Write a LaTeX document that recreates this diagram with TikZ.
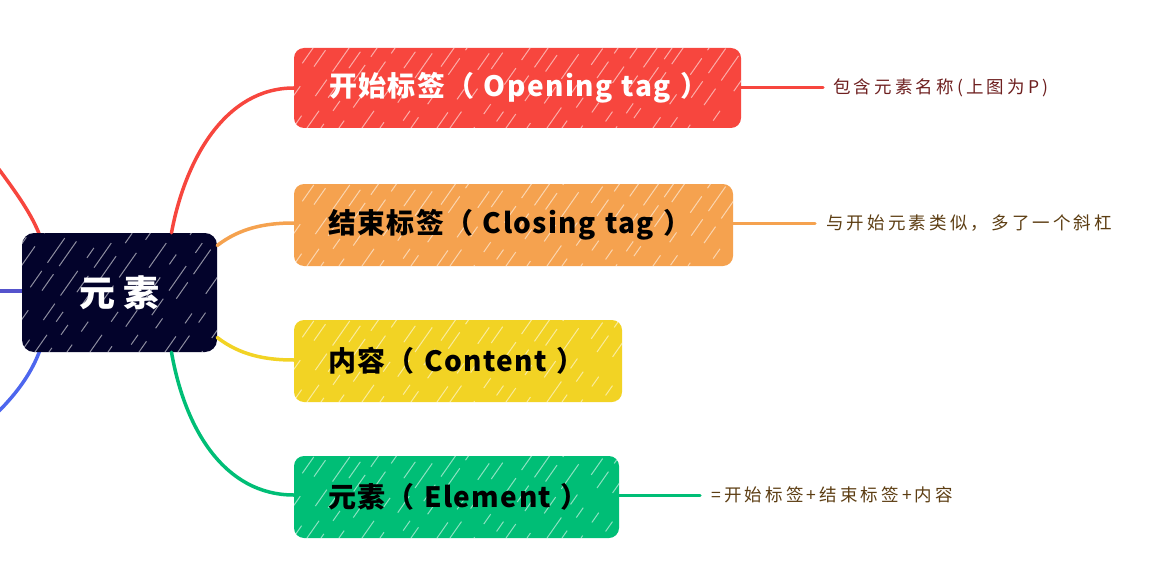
\documentclass[tikz,border=0pt]{standalone}
\usepackage{fontspec}
\newfontfamily\cjkwide{Noto Sans CJK SC}[LetterSpace=5]
\newfontfamily\cjkroot{Noto Sans CJK SC}[LetterSpace=22]
\newfontfamily\cjknote{Noto Sans CJK SC}[LetterSpace=18]
\usetikzlibrary{calc}
\definecolor{cred}{HTML}{F7463E}
\definecolor{corange}{HTML}{F5A24F}
\definecolor{cyellow}{HTML}{F2D324}
\definecolor{cgreen}{HTML}{00BE76}
\definecolor{cnavy}{HTML}{03032B}
\definecolor{cblue}{HTML}{4D66EE}
\definecolor{cpurple}{HTML}{5553CC}
\definecolor{cdarkred}{HTML}{6E1F1F}
\definecolor{cbrown}{HTML}{5C3D12}
\tikzset{
  hatch/.style={path picture={
    \pgfmathsetseed{7}
    \foreach \k in {0,...,30}{
      \pgfmathsetmacro{\ph}{random(0,60)}
      \pgfmathsetmacro{\off}{\k*18+random(-5,5)}
      \draw[white,opacity=0.55,line width=1pt,dash pattern=on 30pt off 16pt on 12pt off 24pt on 20pt off 10pt,dash phase=\ph pt]
        ([xshift=\off pt-130pt]path picture bounding box.south west) -- ++(55:170pt);
    }}},
  topicbox/.style={rounded corners=10pt, hatch, inner ysep=0pt,
    font=\cjkwide\bfseries\fontsize{28}{31}\selectfont, align=left, anchor=center},
  rootbox/.style={rounded corners=12pt, fill=cnavy, hatch, text=white,
    font=\cjkroot\bfseries\fontsize{36}{40}\selectfont, minimum width=195pt, minimum height=119pt, anchor=center},
  branch/.style={line width=3.5pt, line cap=round},
  leaf/.style={line width=3pt, line cap=round},
  note/.style={font=\cjknote\fontsize{17.5}{19}\selectfont, anchor=west, inner sep=0pt}
}
\begin{document}
\begin{tikzpicture}[x=1pt,y=-1pt]
\useasboundingbox (0,0) rectangle (1156,575);
% off-canvas branches
\coordinate (lr) at (-2,168);
\coordinate (lb) at (-2,291);
\coordinate (lbb) at (-2,412);
\draw[branch,cred] (lr) .. controls (18,195) and (32,215) .. (40,236);
\draw[branch,cpurple] (lb) -- (24,291);
\draw[branch,cblue] (lbb) .. controls (18,392) and (32,372) .. (40,350);

% root
\node[rootbox] (root) at (119.5,292.5) {元素};

% topic boxes
\node[topicbox, fill=cred, text=white, minimum width=447pt, minimum height=80pt, text width=447pt-70pt, inner xsep=35pt] (open) at (517.5,88) {\mbox{开始标签（ Opening tag ）}};
\node[topicbox, fill=corange, text=black, minimum width=439pt, minimum height=82pt, text width=439pt-68pt, inner xsep=34pt] (close) at (513.5,225) {\mbox{结束标签（ Closing tag ）}};
\node[topicbox, fill=cyellow, text=black, minimum width=328pt, minimum height=82pt, text width=328pt-68pt, inner xsep=34pt] (content) at (458,361) {\mbox{内容（ Content ）}};
\node[topicbox, fill=cgreen, text=black, minimum width=325pt, minimum height=82pt, text width=325pt-68pt, inner xsep=34pt] (elem) at (456.5,497) {\mbox{元素（ Element ）}};

% connectors root -> topics
\draw[branch,cred] ([xshift=52pt]root.north) .. controls (185,160) and (225,88) .. (open.west);
\draw[branch,corange] ([yshift=47pt]root.east) .. controls (240,228) and (265,223) .. ([yshift=2pt]close.west);
\draw[branch,cyellow] ([yshift=-45pt]root.east) .. controls (240,355) and (265,360) .. ([yshift=1pt]content.west);
\draw[branch,cgreen] ([xshift=52pt]root.south) .. controls (185,430) and (225,495) .. ([yshift=2pt]elem.west);

% notes
\coordinate (n1) at (823,88);
\coordinate (n2) at (815,223);
\coordinate (n3) at (700,495);
\draw[leaf,cred] (open.east) -- (n1);
\draw[leaf,corange] ([yshift=2pt]close.east) -- (n2);
\draw[leaf,cgreen] ([yshift=2pt]elem.east) -- (n3);
\node[note, text=cdarkred] (t1) at (833,88) {包含元素名称(上图为P)};
\node[note, text=cbrown] (t2) at (826,223) {与开始元素类似，多了一个斜杠};
\node[note, text=cbrown] (t3) at (711,495) {=开始标签+结束标签+内容};
\end{tikzpicture}
\end{document}
